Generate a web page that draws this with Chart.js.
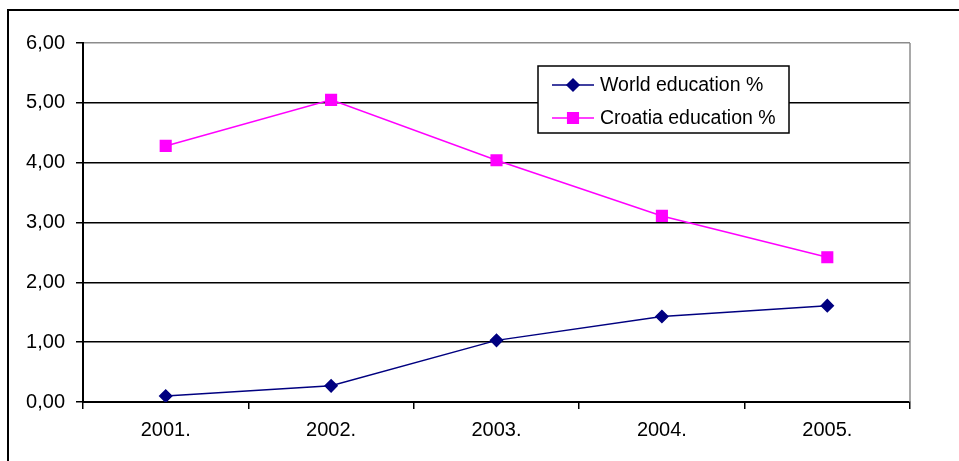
<!DOCTYPE html>
<html>
<head>
<meta charset="utf-8">
<script src="https://cdn.jsdelivr.net/npm/chart.js@4/dist/chart.umd.min.js"></script>
<style>
  html, body { margin: 0; padding: 0; background: #fff; overflow: hidden; }
  #wrap { width: 959px; height: 461px; }
</style>
</head>
<body>
<div id="wrap"><canvas id="myChart" width="959" height="461"></canvas></div>
<script>
var years = ['2001.', '2002.', '2003.', '2004.', '2005.'];
var world = [0.10, 0.27, 1.03, 1.43, 1.61];
var croatia = [4.28, 5.05, 4.04, 3.11, 2.42];
var yTicks = [0, 1, 2, 3, 4, 5, 6];

var FONT = '"Liberation Sans", Arial, sans-serif';

// outer frame, right border of plot area, and the boxed legend
var extras = {
  id: 'extras',
  beforeDraw: function(chart) {
    var ctx = chart.ctx;
    ctx.save();
    ctx.strokeStyle = '#000';
    ctx.lineWidth = 2;
    ctx.beginPath();
    ctx.moveTo(8, 470);
    ctx.lineTo(8, 10);
    ctx.lineTo(970, 10);
    ctx.stroke();
    ctx.restore();
  },
  afterDatasetsDraw: function(chart) {
    var ctx = chart.ctx;
    var a = chart.chartArea;
    ctx.save();
    ctx.strokeStyle = '#8c8c8c';
    ctx.lineWidth = 1.5;
    ctx.beginPath();
    ctx.moveTo(a.right, a.top);
    ctx.lineTo(a.right, a.bottom);
    ctx.stroke();

    // legend
    var bx = 538, by = 66, bw = 251, bh = 67;
    ctx.fillStyle = '#fff';
    ctx.fillRect(bx, by, bw, bh);
    ctx.strokeStyle = '#000';
    ctx.lineWidth = 1.5;
    ctx.strokeRect(bx, by, bw, bh);
    var rows = [85, 118];
    chart.data.datasets.forEach(function(ds, i) {
      var y = rows[i];
      ctx.strokeStyle = ds.borderColor;
      ctx.lineWidth = ds.borderWidth;
      ctx.beginPath();
      ctx.moveTo(552, y);
      ctx.lineTo(594, y);
      ctx.stroke();
      Chart.helpers.drawPoint(ctx, {
        pointStyle: ds.pointStyle,
        radius: ds.pointRadius,
        rotation: 0,
        borderWidth: 1
      }, 573, y);
      ctx.fillStyle = ds.pointBackgroundColor;
      ctx.fill();
      ctx.fillStyle = '#000';
      ctx.font = '19.5px ' + FONT;
      ctx.textBaseline = 'middle';
      ctx.textAlign = 'left';
      ctx.fillText(ds.label, 600, y + 1);
    });
    ctx.restore();
  }
};

var ctx = document.getElementById('myChart').getContext('2d');
var myChart = new Chart(ctx, {
  type: 'line',
  data: {
    labels: years,
    datasets: [{
      label: 'World education %',
      data: world,
      borderColor: '#000080',
      backgroundColor: '#000080',
      pointBackgroundColor: '#000080',
      pointBorderColor: '#000080',
      pointStyle: 'rectRot',
      pointRadius: 6,
      borderWidth: 1.5,
      tension: 0
    },
    {
      label: 'Croatia education %',
      data: croatia,
      borderColor: '#ff00ff',
      backgroundColor: '#ff00ff',
      pointBackgroundColor: '#ff00ff',
      pointBorderColor: '#ff00ff',
      pointStyle: 'rect',
      pointRadius: 7.5,
      borderWidth: 1.5,
      tension: 0
    }]
  },
  options: {
    responsive: false,
    animation: false,
    layout: { padding: { top: 43, right: 49, left: 0, bottom: 0 } },
    plugins: {
      legend: { display: false },
      tooltip: { enabled: false }
    },
    scales: {
      x: {
        offset: true,
        afterFit: function(s) { s.height = 59; },
        grid: {
          offset: true,
          drawOnChartArea: false,
          drawTicks: true,
          tickLength: 7,
          color: '#000',
          lineWidth: 1.5
        },
        border: { color: '#000', width: 2 },
        ticks: {
          color: '#000',
          font: { family: FONT, size: 20 },
          padding: 9,
          maxRotation: 0
        }
      },
      y: {
        min: yTicks[0],
        max: yTicks[yTicks.length - 1],
        afterFit: function(s) { s.width = 83; },
        afterBuildTicks: function(s) {
          s.ticks = yTicks.map(function(v) { return { value: v }; });
        },
        grid: {
          color: function(c) { return c.tick && c.tick.value === 6 ? '#8c8c8c' : '#000'; },
          tickColor: '#000',
          lineWidth: 1.5,
          tickLength: 7
        },
        border: { color: '#000', width: 2 },
        ticks: {
          color: '#000',
          font: { family: FONT, size: 20 },
          padding: 11,
          callback: function(v) { return Number(v).toFixed(2).replace('.', ','); }
        }
      }
    }
  },
  plugins: [extras]
});
</script>
</body>
</html>
